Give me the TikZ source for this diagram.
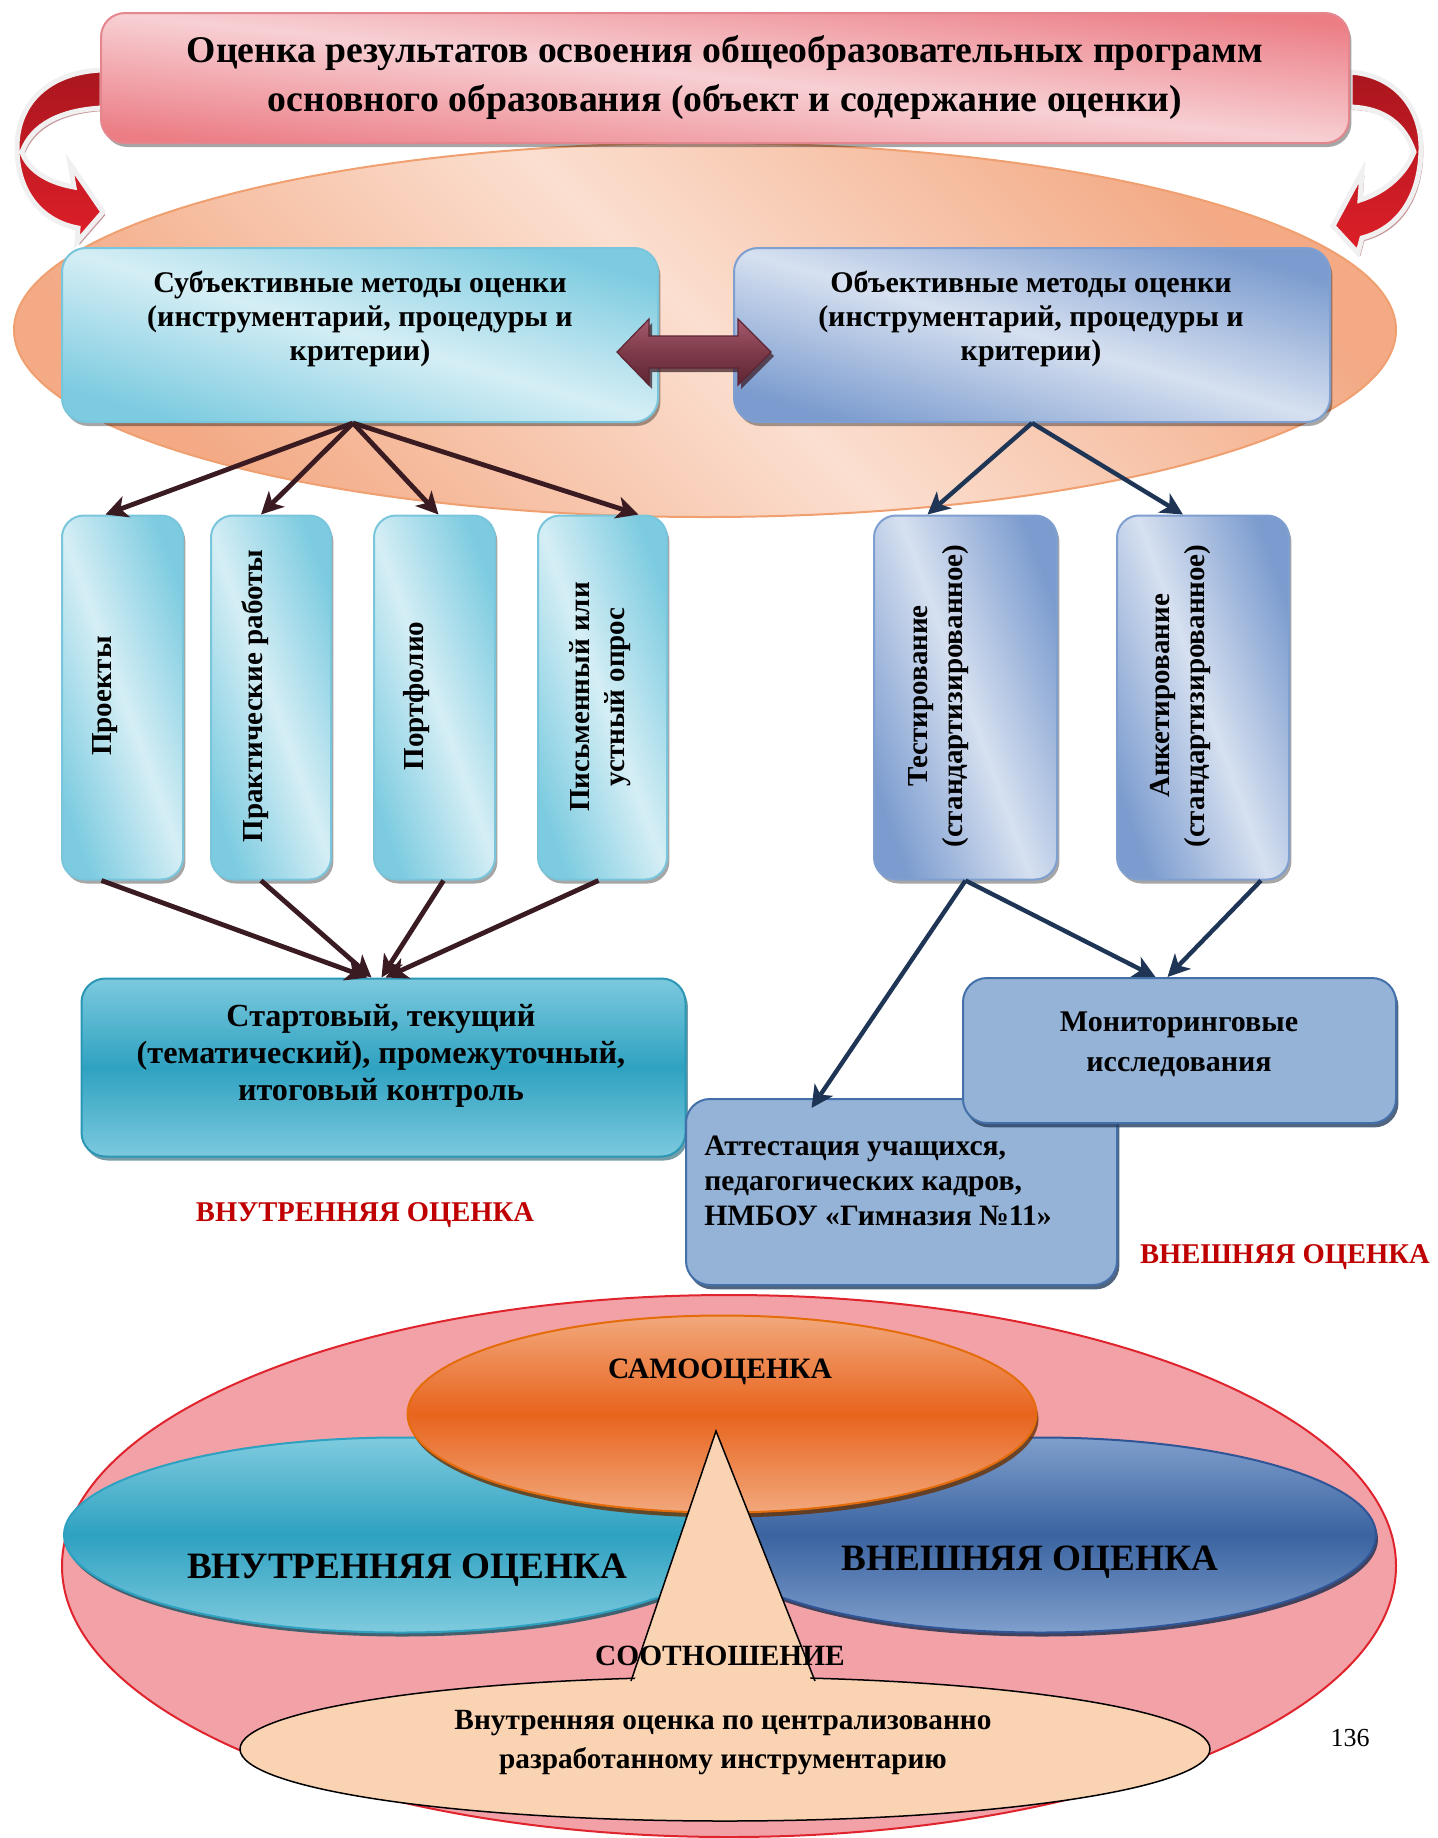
\documentclass[tikz,border=0pt]{standalone}
\usepackage{fontspec}
\setmainfont{Liberation Serif}
\usetikzlibrary{arrows.meta,shadows,shapes.geometric}

\definecolor{titlelight}{HTML}{F7D0D4}
\definecolor{titledark}{HTML}{EC7D85}
\definecolor{titleedge}{HTML}{E4868E}
\definecolor{orlight}{HTML}{FBDFD0}
\definecolor{ordark}{HTML}{F3AA85}
\definecolor{oredge}{HTML}{F0A070}
\definecolor{cyanlight}{HTML}{D5EEF5}
\definecolor{cyandark}{HTML}{7CCBE0}
\definecolor{cyanedge}{HTML}{79C6DC}
\definecolor{bluelight}{HTML}{D6E0F0}
\definecolor{bluedark}{HTML}{7C9CCF}
\definecolor{blueedge}{HTML}{7E9FCF}
\definecolor{tealtop}{HTML}{7CC9DE}
\definecolor{tealmid}{HTML}{2FA2C1}
\definecolor{tealedge}{HTML}{2B97B5}
\definecolor{monitfill}{HTML}{95B3D7}
\definecolor{monitedge}{HTML}{4470AA}
\definecolor{subjline}{HTML}{3A1B22}
\definecolor{objline}{HTML}{1E3556}
\definecolor{dbllight}{HTML}{A55A6C}
\definecolor{dblmid}{HTML}{7D3B4A}
\definecolor{dbldark}{HTML}{5E2533}
\definecolor{labelred}{HTML}{C00000}
\definecolor{pinkfill}{HTML}{F2A2A7}
\definecolor{pinkedge}{HTML}{E0242E}
\definecolor{selftop}{HTML}{F2A87C}
\definecolor{selfmid}{HTML}{E8641D}
\definecolor{selfedge}{HTML}{E46C0A}
\definecolor{innertop}{HTML}{7FCBDE}
\definecolor{innermid}{HTML}{2EA1C1}
\definecolor{outertop}{HTML}{7F9FCC}
\definecolor{outermid}{HTML}{3A63A0}
\definecolor{outeredge}{HTML}{2F5597}
\definecolor{callfill}{HTML}{FAD3B3}
\definecolor{curvedark}{HTML}{AA161E}
\definecolor{curvebright}{HTML}{DE1F29}
\definecolor{curveshadow}{HTML}{C08A8E}

\tikzset{every picture/.style={line width=0.75pt}}
\tikzset{
	boxshadow/.style={drop shadow={shadow xshift=1.2pt,shadow yshift=-2pt,opacity=.35,fill=black}},
	titlebox/.style={rectangle,rounded corners=12pt,draw=titleedge,line width=1pt,top color=titledark,bottom color=titledark,middle color=titlelight,shading angle=-6,minimum width=624pt,minimum height=65pt,inner sep=0pt,boxshadow},
	subjbox/.style={rectangle,rounded corners=12pt,draw=cyanedge,line width=1pt,top color=cyandark,bottom color=cyandark,middle color=cyanlight,shading angle=-16,minimum width=298pt,minimum height=87pt,inner sep=0pt,boxshadow},
	objbox/.style={rectangle,rounded corners=12pt,draw=blueedge,line width=1pt,top color=bluedark,bottom color=bluedark,middle color=bluelight,shading angle=-16,minimum width=298pt,minimum height=87pt,inner sep=0pt,boxshadow},
	subjcol/.style={rectangle,rounded corners=11pt,draw=cyanedge,line width=1pt,top color=cyandark,bottom color=cyandark,middle color=cyanlight,shading angle=-70,minimum height=182pt,inner sep=0pt,boxshadow},
	objcol/.style={rectangle,rounded corners=11pt,draw=blueedge,line width=1pt,top color=bluedark,bottom color=bluedark,middle color=bluelight,shading angle=-70,minimum height=182pt,inner sep=0pt,boxshadow},
	startbox/.style={rectangle,rounded corners=12pt,draw=tealedge,line width=1pt,top color=tealtop,bottom color=tealtop,middle color=tealmid,minimum width=302pt,minimum height=89pt,inner sep=0pt,drop shadow={shadow xshift=1.2pt,shadow yshift=-2pt,opacity=.6,fill=tealedge!60!black}},
	monitbox/.style={rectangle,rounded corners=12pt,draw=monitedge,line width=1pt,fill=monitfill,inner sep=0pt,drop shadow={shadow xshift=1.2pt,shadow yshift=-2.2pt,opacity=.8,fill=monitedge!55!black}},
	boxtext/.style={align=center,font=\bfseries\fontsize{15}{17}\selectfont},
	coltext/.style={align=center,rotate=90,font=\bfseries\fontsize{14.5}{17.5}\selectfont},
	subjarrow/.style={draw=subjline,line width=2.4pt,-{Stealth[length=11pt,width=11pt,inset=3pt]}},
	objarrow/.style={draw=objline,line width=2.2pt,-{Stealth[length=11pt,width=11pt,inset=3pt]}},
	redlabel/.style={text=labelred,font=\bfseries\fontsize{14.3}{16}\selectfont},
	venn/.style={ellipse,inner sep=0pt,line width=1pt},
	curvearrow/.style={top color=curvedark,bottom color=curvebright,draw=white!94!black,line width=2.5pt,drop shadow={shadow xshift=1.2pt,shadow yshift=-1.5pt,opacity=.9,fill=curveshadow}}
}

\begin{document}
\begin{tikzpicture}[x=0.5pt,y=-0.5pt]
	\useasboundingbox (0,0) rectangle (1438,1838);

	% Ellipse behind the two method boxes
	\node[venn,draw=oredge,top color=ordark,bottom color=ordark,middle color=orlight,shading angle=-45,minimum width=691pt,minimum height=187pt] (back) at (705,330) {};

	% Curved Arrow left
	\draw[curvearrow] (102,70) .. controls (50,72) and (16,102) .. (17,150) .. controls (18,195) and (44,222) .. (78,228) -- (77,242) -- (103,212) -- (70,164) -- (74,187) .. controls (45,182) and (27,168) .. (22,152) .. controls (32,124) and (62,110) .. (102,108) -- cycle;
	% Curved Arrow right
	\draw[curvearrow] (1350,72) .. controls (1395,75) and (1422,108) .. (1421,150) .. controls (1420,195) and (1400,228) .. (1362,238) -- (1358,253) -- (1333,226) -- (1362,172) -- (1360,200) .. controls (1385,192) and (1405,175) .. (1414,152) .. controls (1405,125) and (1385,108) .. (1350,107) -- cycle;

	% Title
	\node[titlebox] (title) at (725,78) {};
	\node[align=center,font=\bfseries\fontsize{18.85}{24.5}\selectfont] at (725,78) {Оценка результатов освоения общеобразовательных программ\\основного образования (объект и содержание оценки)};

	% Method boxes
	\node[subjbox] (subj) at (360,335) {};
	\node[boxtext] at (360,319) {Субъективные методы оценки\\(инструментарий, процедуры и\\критерии)};
	\node[objbox] (obj) at (1032,335) {};
	\node[boxtext] at (1031,319) {Объективные методы оценки\\(инструментарий, процедуры и\\критерии)};

	% Double Arrow
	\draw[draw=dbldark,line width=0.6pt,top color=dbllight,bottom color=dbldark,middle color=dblmid,drop shadow={shadow xshift=1.5pt,shadow yshift=-2pt,opacity=.7,fill=dbldark!60!black}] (617,352) -- (649,319) -- (649,336) -- (738,336) -- (738,319) -- (771,352) -- (738,385) -- (738,368) -- (649,368) -- (649,385) -- cycle;

	% Columns under the subjective box
	\node[subjcol,minimum width=60.5pt] (proj) at (122.5,697.5) {};
	\node[coltext] at (105,696) {Проекты};
	\node[subjcol,minimum width=60pt] (prakt) at (271,697.5) {};
	\node[coltext] at (255,696) {Практические работы};
	\node[subjcol,minimum width=60.5pt] (portf) at (434.5,697.5) {};
	\node[coltext] at (417,696) {Портфолио};
	\node[subjcol,minimum width=64.5pt] (pism) at (602.5,697.5) {};
	\node[coltext] at (600,697) {Письменный или\\устный опрос};

	% Columns under the objective box
	\node[objcol,minimum width=91.5pt] (test) at (965.5,697.5) {};
	\node[coltext] at (939,696) {Тестирование\\(стандартизированное)};
	\node[objcol,minimum width=86pt] (ankt) at (1203,697.5) {};
	\node[coltext] at (1181,696) {Анкетирование\\(стандартизированное)};

	% Control boxes
	\node[startbox] (start) at (383.5,1067.5) {};
	\node[boxtext,font=\bfseries\fontsize{16.1}{18.5}\selectfont] at (381,1056) {Стартовый, текущий\\(тематический), промежуточный,\\итоговый контроль};
	\node[monitbox,minimum width=215.5pt,minimum height=93pt] (atest) at (901.5,1192) {};
	\node[align=left,anchor=west,font=\bfseries\fontsize{14.8}{17.5}\selectfont] at (697,1181) {Аттестация учащихся,\\педагогических кадров,\\НМБОУ «Гимназия №11»};
	\node[monitbox,minimum width=216.5pt,minimum height=72.5pt] (monit) at (1179.5,1050.5) {};
	\node[boxtext,font=\bfseries\fontsize{15}{20}\selectfont] at (1179,1044) {Мониторинговые\\исследования};

	% Arrows
	\draw[subjarrow] ([xshift=-3.5pt]subj.south) -- ([xshift=-8.5pt]proj.north);
	\draw[subjarrow] ([xshift=-3.5pt]subj.south) -- ([xshift=-5pt]prakt.north);
	\draw[subjarrow] ([xshift=-3.5pt]subj.south) -- ([xshift=2pt]portf.north);
	\draw[subjarrow] ([xshift=-3.5pt]subj.south) -- ([xshift=18pt]pism.north);
	\draw[objarrow] (obj.south) -- ([xshift=-19pt]test.north);
	\draw[objarrow] (obj.south) -- ([xshift=-10pt]ankt.north);
	\draw[subjarrow] ([xshift=-10.5pt]proj.south) -- ([xshift=-8pt]start.north);
	\draw[subjarrow] ([xshift=-5pt]prakt.south) -- ([xshift=-6pt]start.north);
	\draw[subjarrow] ([xshift=4.5pt]portf.south) -- ([xshift=-1pt]start.north);
	\draw[subjarrow] ([xshift=-2pt]pism.south) -- ([xshift=1pt]start.north);
	\draw[objarrow] (test.south) -- ([xshift=-45pt,yshift=-5pt]atest.north);
	\draw[objarrow] (test.south) -- ([xshift=-12pt]monit.north);
	\draw[objarrow] ([xshift=29pt]ankt.south) -- ([xshift=-6pt]monit.north);

	% Red labels
	\node[redlabel] (inlbl) at (365,1215) {ВНУТРЕННЯЯ ОЦЕНКА};
	\node[redlabel] (exlbl) at (1285,1257) {ВНЕШНЯЯ ОЦЕНКА};

	% Venn part
	\node[venn,draw=pinkedge,fill=pinkfill,minimum width=667pt,minimum height=271pt] (ring) at (729,1566) {};
	\node[venn,draw=innermid,top color=innertop,bottom color=innertop,middle color=innermid,minimum width=336pt,minimum height=97.5pt,drop shadow={shadow xshift=1pt,shadow yshift=-2pt,opacity=.8,fill=innermid!50!black}] (inner) at (400,1535) {};
	\node[venn,draw=outeredge,top color=outertop,bottom color=outertop,middle color=outermid,minimum width=336pt,minimum height=97.5pt,drop shadow={shadow xshift=1pt,shadow yshift=-2pt,opacity=.8,fill=outeredge!50!black}] (outer) at (1040,1535) {};
	\node[venn,draw=selfedge,top color=selftop,bottom color=selftop,middle color=selfmid,minimum width=314.5pt,minimum height=98.5pt,drop shadow={shadow xshift=1pt,shadow yshift=-2.5pt,opacity=.8,fill=selfedge!45!black}] (self) at (722,1414) {};
	\node[font=\bfseries\fontsize{14.8}{18}\selectfont] at (720,1372) {САМООЦЕНКА};
	\node[font=\bfseries\fontsize{18.6}{21}\selectfont] at (407,1570) {ВНУТРЕННЯЯ ОЦЕНКА};
	\node[font=\bfseries\fontsize{18.6}{21}\selectfont] at (1030,1562) {ВНЕШНЯЯ ОЦЕНКА};

	% Callout
	\fill[callfill] (631,1681) -- (716,1431) -- (815,1681) -- cycle;
	\node[venn,draw=black,fill=callfill,line width=0.75pt,minimum width=485pt,minimum height=72pt] (call) at (725,1749) {};
	\fill[callfill] (632,1688) -- (716,1433) -- (814,1688) -- cycle;
	\draw[line width=0.75pt] (631,1681) -- (716,1431) -- (815,1681);
	\node[font=\bfseries\fontsize{14.7}{18}\selectfont] at (720,1656) {СООТНОШЕНИЕ};
	\node[align=center,font=\bfseries\fontsize{14.65}{19.5}\selectfont] at (723,1743) {Внутренняя оценка по централизованно\\разработанному инструментарию};

	% Page number
	\node[font=\fontsize{13}{15}\selectfont] (page) at (1350,1738) {136};
\end{tikzpicture}
\end{document}
